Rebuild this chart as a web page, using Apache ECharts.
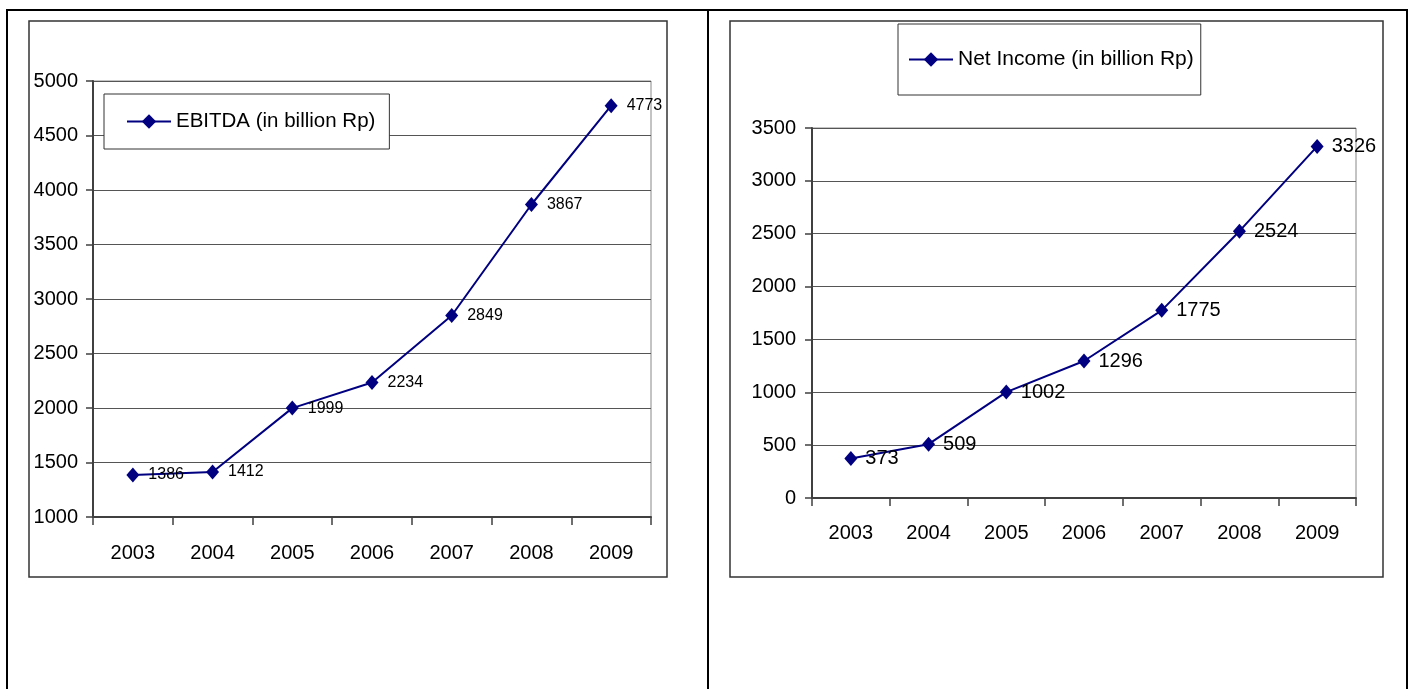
<!DOCTYPE html>
<html>
	<head>
		<meta charset="utf-8">
		<title>EBITDA and Net Income</title>
		<script src="https://cdn.jsdelivr.net/npm/echarts@6/dist/echarts.min.js"></script>
		<style>
			body { margin: 0; background: #fff; }
		</style>
	</head>
	<body>
		<div id="main" style="width: 1415px;height: 689px;"></div>
		<script type="text/javascript">
			// data
			var years = ['2003', '2004', '2005', '2006', '2007', '2008', '2009'];
			var ebitda = [1386, 1412, 1999, 2234, 2849, 3867, 4773];
			var netIncome = [373, 509, 1002, 1296, 1775, 2524, 3326];

			var FONT = 'Arial, "Liberation Sans", sans-serif';
			var NAVY = '#000080';

			var myChart = echarts.init(document.getElementById('main'));

			function xAxisFor(gridIndex, margin) {
				return {
					type: 'category',
					gridIndex: gridIndex,
					data: years,
					boundaryGap: true,
					axisLine: { lineStyle: { color: '#404040', width: 2 } },
					axisTick: { show: true, length: 8, lineStyle: { color: '#404040', width: 1.5 } },
					axisLabel: { margin: margin, color: '#000', fontSize: 20, fontFamily: FONT },
					splitLine: { show: false }
				};
			}

			function yAxisFor(gridIndex, min, max, margin) {
				return {
					type: 'value',
					gridIndex: gridIndex,
					min: min,
					max: max,
					interval: 500,
					axisLine: { show: true, lineStyle: { color: '#404040', width: 2 } },
					axisTick: { show: true, length: 7, lineStyle: { color: '#404040', width: 1.5 } },
					axisLabel: {
						margin: margin, color: '#000', fontSize: 20, fontFamily: FONT,
						formatter: function (v) { return String(v); }
					},
					splitLine: { show: true, lineStyle: { color: '#555', width: 1 } }
				};
			}

			var option = {
				animation: false,
				backgroundColor: '#fff',
				// table borders and the two chart frames
				graphic: [
					{ type: 'line', shape: { x1: 6, y1: 10, x2: 1408, y2: 10 }, style: { stroke: '#000', lineWidth: 2 } },
					{ type: 'line', shape: { x1: 7, y1: 10, x2: 7, y2: 689 }, style: { stroke: '#000', lineWidth: 2 } },
					{ type: 'line', shape: { x1: 708, y1: 10, x2: 708, y2: 689 }, style: { stroke: '#000', lineWidth: 2 } },
					{ type: 'line', shape: { x1: 1407, y1: 10, x2: 1407, y2: 689 }, style: { stroke: '#000', lineWidth: 2 } },
					{ type: 'rect', shape: { x: 29, y: 21, width: 638, height: 556 }, style: { fill: 'none', stroke: '#333', lineWidth: 1.5 } },
					{ type: 'rect', shape: { x: 730, y: 21, width: 653, height: 556 }, style: { fill: 'none', stroke: '#333', lineWidth: 1.5 } }
				],
				legend: [{
					data: ['EBITDA (in billion Rp)'],
					left: 104,
					top: 94,
					orient: 'horizontal',
					padding: [17, 14, 17, 22],
					itemWidth: 44,
					itemHeight: 18,
					backgroundColor: '#fff',
					borderColor: '#333',
					borderWidth: 1,
					borderRadius: 0,
					selectedMode: false,
					textStyle: { color: '#000', fontSize: 20.5, fontFamily: FONT, lineHeight: 21 }
				}, {
					data: ['Net Income (in billion Rp)'],
					left: 898,
					top: 24,
					orient: 'horizontal',
					padding: [25, 7, 25, 10],
					itemWidth: 44,
					itemHeight: 18,
					backgroundColor: '#fff',
					borderColor: '#333',
					borderWidth: 1,
					borderRadius: 0,
					selectedMode: false,
					textStyle: { color: '#000', fontSize: 21, fontFamily: FONT, lineHeight: 21 }
				}],
				grid: [{
					left: 93,
					top: 81,
					right: 764,
					bottom: 172,
					show: true,
					borderColor: '#888',
					borderWidth: 1,
					backgroundColor: 'transparent'
				}, {
					left: 812,
					top: 128,
					right: 59,
					bottom: 191,
					show: true,
					borderColor: '#888',
					borderWidth: 1,
					backgroundColor: 'transparent'
				}],
				xAxis: [xAxisFor(0, 26), xAxisFor(1, 25)],
				yAxis: [yAxisFor(0, 1000, 5000, 15), yAxisFor(1, 0, 3500, 16)],
				series: [{
					name: 'EBITDA (in billion Rp)',
					type: 'line',
					xAxisIndex: 0,
					yAxisIndex: 0,
					data: ebitda,
					symbol: 'diamond',
					symbolSize: [13, 15],
					itemStyle: { color: NAVY },
					lineStyle: { color: NAVY, width: 2 },
					label: { show: true, position: 'right', distance: 9, color: '#000', fontSize: 16, fontFamily: FONT }
				}, {
					name: 'Net Income (in billion Rp)',
					type: 'line',
					xAxisIndex: 1,
					yAxisIndex: 1,
					data: netIncome,
					symbol: 'diamond',
					symbolSize: [13, 15],
					itemStyle: { color: NAVY },
					lineStyle: { color: NAVY, width: 2 },
					label: { show: true, position: 'right', distance: 8, color: '#000', fontSize: 20, fontFamily: FONT }
				}]
			};

			myChart.setOption(option);
		</script>
	</body>
</html>
